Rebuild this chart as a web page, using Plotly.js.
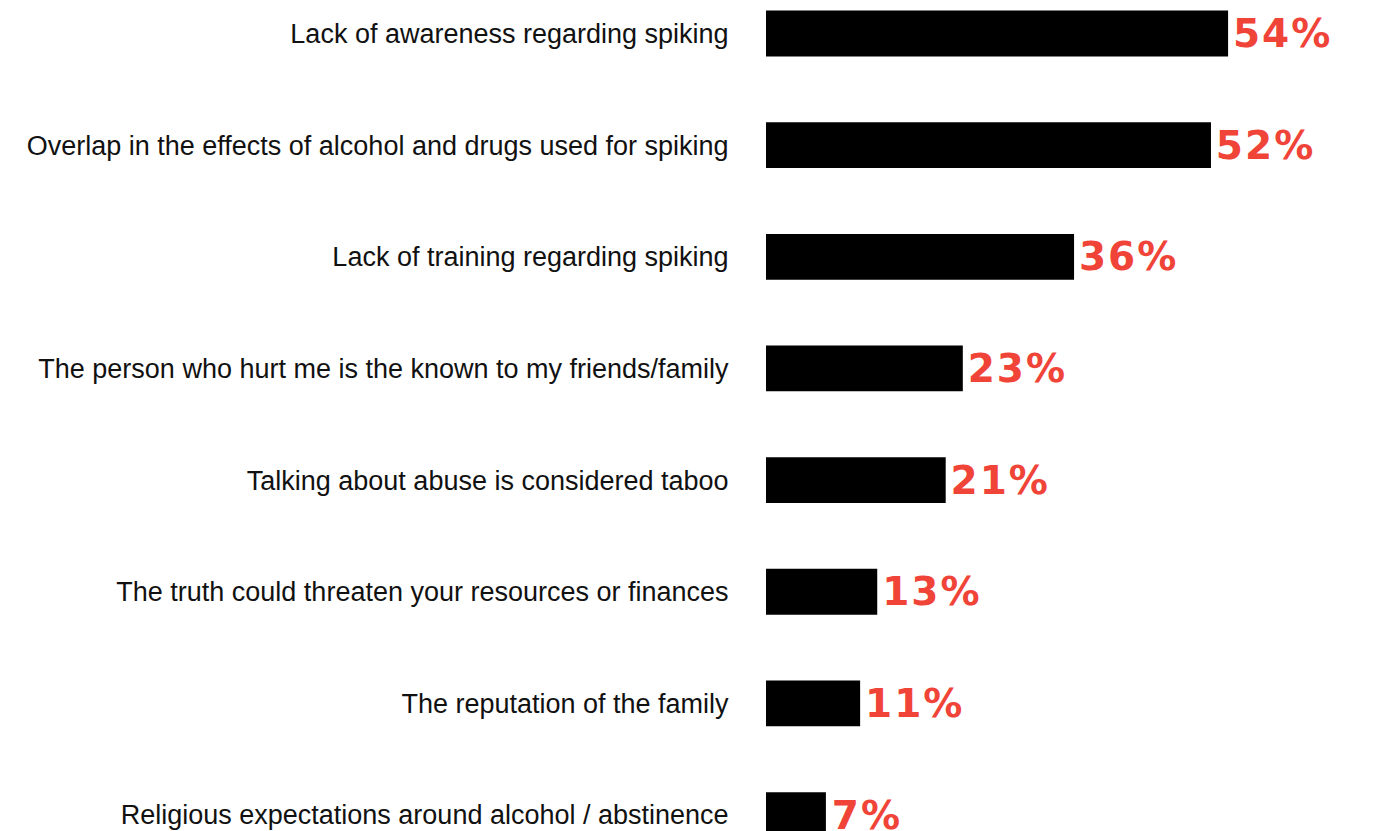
<!DOCTYPE html>
<html>
<head>
<meta charset="utf-8">
<script src="https://cdn.plot.ly/plotly-3.0.1.min.js"></script>
<style>
html,body{margin:0;padding:0;background:#fff;}
#chart{width:1390px;height:831px;}
#chart .bartext text, #chart text.bartext{letter-spacing:2px;}
</style>
</head>
<body>
<div id="chart"></div>
<script>
const categories = [
  "Lack of awareness regarding spiking",
  "Overlap in the effects of alcohol and drugs used for spiking",
  "Lack of training regarding spiking",
  "The person who hurt me is the known to my friends/family",
  "Talking about abuse is considered taboo",
  "The truth could threaten your resources or finances",
  "The reputation of the family",
  "Religious expectations around alcohol / abstinence"
];
const values = [54, 52, 36, 23, 21, 13, 11, 7];
const valueLabels = ["54%", "52%", "36%", "23%", "21%", "13%", "11%", "7%"];

const trace = {
  type: 'bar',
  orientation: 'h',
  x: values,
  y: categories,
  marker: {color: '#000000'},
  width: 0.41,
  text: valueLabels,
  texttemplate: '\u200a%{text}',
  textposition: 'outside',
  cliponaxis: false,
  constraintext: 'none',
  textfont: {family: 'DejaVu Sans', size: 39, color: '#F04438', weight: 900},
  hoverinfo: 'none'
};

const layout = {
  width: 1390,
  height: 831,
  margin: {l: 766, r: 25, t: 0, b: 0, pad: 0},
  paper_bgcolor: '#ffffff',
  plot_bgcolor: '#ffffff',
  showlegend: false,
  xaxis: {range: [0, 70], visible: false, showgrid: false, zeroline: false, fixedrange: true},
  yaxis: {
    type: 'category',
    range: [7.143, -0.300],
    showgrid: false, zeroline: false, showline: false,
    ticks: 'outside', ticklen: 31, tickcolor: 'rgba(0,0,0,0)',
    tickfont: {family: 'Liberation Sans, Arial, sans-serif', size: 27, color: '#111111'},
    automargin: false
  }
};

Plotly.newPlot('chart', [trace], layout, {displayModeBar: false, staticPlot: true});
</script>
</body>
</html>
